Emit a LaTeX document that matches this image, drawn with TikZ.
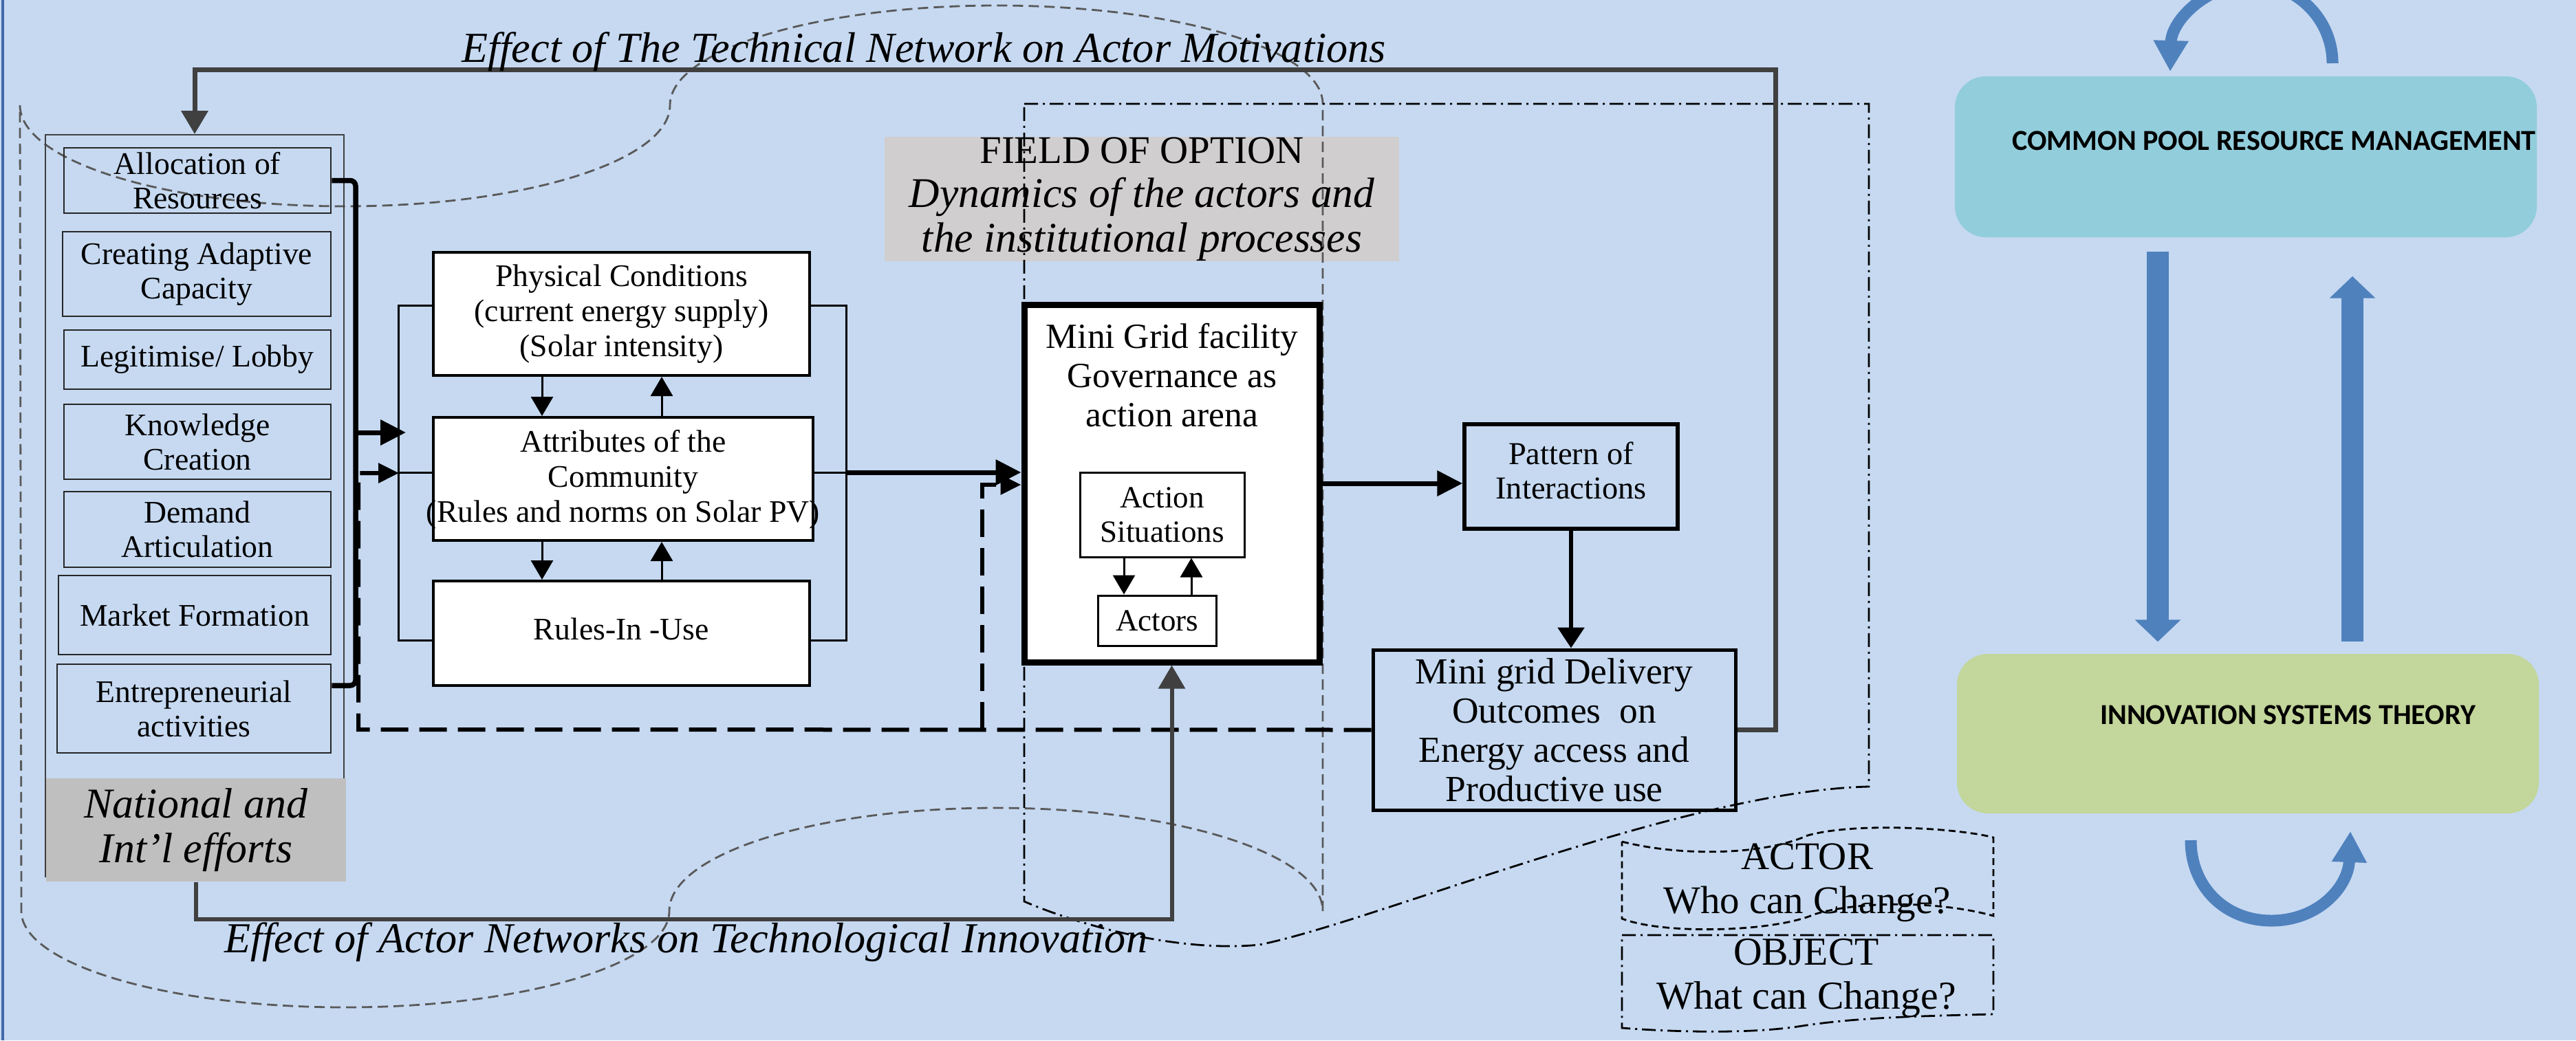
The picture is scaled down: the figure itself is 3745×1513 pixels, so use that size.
\documentclass[tikz,border=0pt]{standalone}
\usepackage{fontspec}
\setmainfont{Liberation Serif}
\newfontfamily\carlito{Carlito}
\usetikzlibrary{arrows.meta}
\definecolor{bgblue}{RGB}{198,217,241}
\definecolor{edgeblue}{RGB}{65,105,170}
\definecolor{darkg}{RGB}{64,64,64}
\definecolor{dashg}{RGB}{89,89,89}
\definecolor{fieldg}{RGB}{208,206,206}
\definecolor{natg}{RGB}{191,191,191}
\definecolor{cprmfill}{RGB}{146,205,220}
\definecolor{istfill}{RGB}{195,214,155}
\definecolor{arrblue}{RGB}{79,129,189}
\tikzset{
 lbox/.style={draw=black!85, line width=0.25mm, inner sep=0pt, align=center, font=\fontsize{13}{14.2}\selectfont},
 wbox/.style={draw=black, fill=white, line width=0.4mm, inner sep=0pt, align=center, font=\fontsize{13}{14.5}\selectfont},
 txt/.style={inner sep=0pt, align=center},
 frameline/.style={black, line width=0.3mm},
 sarr/.style={black, line width=0.3mm, -{Triangle[length=2.8mm,width=3.2mm]}},
 bracketline/.style={black, line width=0.75mm},
 thickarr/.style={black, line width=0.7mm, -{Triangle[length=3.7mm,width=3.6mm]}},
 thickdash/.style={black, line width=0.6mm, dash pattern=on 4mm off 1.6mm, -{Triangle[length=3mm,width=2.8mm]}},
 grayloop/.style={darkg, line width=0.7mm, -{Triangle[length=3.4mm,width=3.8mm]}},
 netdash/.style={dashg, line width=0.28mm, dash pattern=on 1.5mm off 0.8mm},
 fielddash/.style={black, line width=0.28mm, dash pattern=on 2mm off 0.7mm on 0.3mm off 0.7mm},
 bigarr/.style={arrblue, line width=3.2mm, -{Triangle[length=3.2mm,width=6.5mm]}},
 curvarr/.style={arrblue, line width=1.7mm, -{Triangle[length=4.5mm,width=4.8mm]}},
}
\begin{document}
\begin{tikzpicture}[x=0.1mm,y=-0.1mm]
\clip (0,0) rectangle (3745,1513);
\useasboundingbox (0,0) rectangle (3745,1513);
\fill[bgblue] (0,0) rectangle (3745,1513);
\draw[edgeblue, line width=0.5mm] (4,0) -- (4,1513);

% field of option label box
\node[fill=fieldg, minimum width=74.8mm, minimum height=18.1mm, txt, font=\fontsize{17.5}{18.4}\selectfont] (field) at (1660,289.5)
  {{\fontsize{16.2}{18.4}\selectfont FIELD OF OPTION}\\ \itshape Dynamics of the actors and\\ \itshape the institutional processes};

% network dashed outline
\draw[netdash]
 (29,153) .. controls (29,234) and (240,300) .. (501,300)
 .. controls (762,300) and (974,234) .. (974,153)
 .. controls (974,73) and (1187,8) .. (1449,8)
 .. controls (1711,8) and (1923,72) .. (1923,151)
 -- (1923,1325)
 .. controls (1923,1242) and (1710,1175) .. (1448,1175)
 .. controls (1186,1175) and (973,1242) .. (973,1325)
 .. controls (973,1402) and (762,1465) .. (502,1465)
 .. controls (242,1465) and (31,1402) .. (31,1325)
 -- cycle;

% field dash-dot outline
\draw[fielddash]
 (1489,151) -- (2717,151) -- (2717,1144)
 .. controls (2450,1150) and (2000,1340) .. (1831,1374)
 .. controls (1720,1385) and (1580,1350) .. (1489,1311) -- cycle;

% left column
\node[draw=darkg, line width=0.2mm, minimum width=43.4mm, minimum height=107.9mm, inner sep=0pt] (outer) at (283,735.5) {};
\node[lbox, minimum width=38.8mm, minimum height=9.5mm] (alloc) at (287,262.5) {Allocation of\\Resources};
\node[lbox, minimum width=39mm, minimum height=12.3mm] (adapt) at (286,398.5) {Creating Adaptive\\Capacity};
\node[lbox, minimum width=38.8mm, minimum height=8.6mm] (legit) at (287,523) {Legitimise/ Lobby};
\node[lbox, minimum width=38.8mm, minimum height=10.9mm] (know) at (287,642.5) {Knowledge\\Creation};
\node[lbox, minimum width=38.8mm, minimum height=11mm] (demand) at (287,770) {Demand\\Articulation};
\node[lbox, minimum width=39.6mm, minimum height=11.5mm] (market) at (283,894.5) {Market Formation};
\node[lbox, minimum width=39.8mm, minimum height=12.9mm] (entre) at (282,1030.5) {Entrepreneurial\\activities};
\node[fill=natg, minimum width=43.6mm, minimum height=15mm, txt, font=\fontsize{17.6}{18.5}\selectfont\itshape] (natl) at (285,1207) {National and\\Int’l efforts};

% middle boxes
\node[wbox, minimum width=54.7mm, minimum height=17.9mm] (phys) at (903.5,456.5) {Physical Conditions\\(current energy supply)\\(Solar intensity)};
\node[wbox, minimum width=55.2mm, minimum height=17.9mm] (attr) at (906,696.5) {};
\node[txt, font=\fontsize{13}{14.5}\selectfont] (attrtxt) at (906,697) {Attributes of the\\Community\\(Rules and norms on Solar PV)};
\node[wbox, minimum width=54.7mm, minimum height=15.2mm] (rules) at (903.5,921) {};
\node[txt, font=\fontsize{13}{14.5}\selectfont] (rulestxt) at (903.5,915) {Rules-In -Use};

\coordinate (fTL) at (579,444);
\coordinate (fBL) at (579,931);
\coordinate (fTR) at (1230,444);
\coordinate (fBR) at (1230,931);
\coordinate (fML) at (579,687);
\coordinate (fMR) at (1230,687);
\draw[frameline] (phys.west |- fTL) -- (fTL) -- (fBL) -- (rules.west |- fBL);
\draw[frameline] (phys.east |- fTR) -- (fTR) -- (fBR) -- (rules.east |- fBR);
\draw[frameline] (fML) -- (attr.west |- fML);
\draw[frameline] (attr.east |- fMR) -- (fMR);

\coordinate (px1) at (788,0);
\coordinate (px2) at (962,0);
\draw[sarr] (phys.south -| px1) -- (attr.north -| px1);
\draw[sarr] (attr.north -| px2) -- (phys.south -| px2);
\draw[sarr] (attr.south -| px1) -- (rules.north -| px1);
\draw[sarr] (rules.north -| px2) -- (attr.south -| px2);

% mini grid arena
\node[draw=black, fill=white, line width=0.9mm, minimum width=42.9mm, minimum height=52mm, inner sep=0pt] (mini) at (1703.5,703) {};
\node[txt, font=\fontsize{14.65}{16.2}\selectfont] (minitxt) at (1704,546) {Mini Grid facility\\Governance as\\action arena};
\node[wbox, line width=0.3mm, minimum width=23.9mm, minimum height=12.3mm, font=\fontsize{12.8}{14.2}\selectfont] (act) at (1689.5,748.5) {Action\\Situations};
\node[wbox, line width=0.3mm, minimum width=17.2mm, minimum height=7.3mm, font=\fontsize{12.8}{14.2}\selectfont] (actors) at (1682,902.5) {Actors};
\coordinate (ax1) at (1634,0);
\coordinate (ax2) at (1732,0);
\draw[sarr] (act.south -| ax1) -- (actors.north -| ax1);
\draw[sarr] (actors.north -| ax2) -- (act.south -| ax2);

% pattern and delivery
\node[draw=black, line width=0.55mm, minimum width=31mm, minimum height=15.2mm, inner sep=0pt] (pattern) at (2284,693) {};
\node[txt, font=\fontsize{13.2}{14.2}\selectfont] (pattxt) at (2284,684) {Pattern of\\Interactions};
\node[draw=black, line width=0.5mm, minimum width=52.7mm, minimum height=23.3mm, txt, font=\fontsize{15.2}{16.2}\selectfont] (deliv) at (2259.5,1061.5) {Mini grid Delivery\\Outcomes~~on\\Energy access and\\Productive use};

% connectors
\draw[thickarr] (fMR) -- (mini.west |- fMR);
\draw[thickarr] (mini.east) -- (pattern.west |- mini.east);
\draw[black, line width=0.6mm, -{Triangle[length=3mm,width=3.8mm]}] (pattern.south) -- (deliv.north -| pattern.south);

\coordinate (brB) at (517,997);
\coordinate (brA) at (517,629);
\coordinate (brT) at (590,629);
\draw[bracketline, rounded corners=0.8mm] (alloc.east) -| (brB) -- (entre.east |- brB);
\draw[thickarr] (brA) -- (brT);

\coordinate (dA) at (521,1061);
\coordinate (dB) at (521,688);
\coordinate (dC) at (580,688);
\coordinate (dD) at (1428,1061);
\coordinate (dE) at (1428,705);
\draw[thickdash] (deliv.west) -- (dA) -- (dB) -- (dC);
\draw[thickdash] (dD) -- (dE) -- (mini.west |- dE);

\coordinate (gTR) at (2581,101);
\draw[grayloop] (deliv.east) -| (gTR) -| (outer.north);
\coordinate (gB) at (1000,1337);
\draw[grayloop, line width=0.6mm] (natl.south) |- (gB) -| (mini.south);

% effect labels
\node[txt, font=\fontsize{17.7}{20}\selectfont\itshape] (efftop) at (1343,75) {Effect of The Technical Network on Actor Motivations};
\node[txt, font=\fontsize{17.7}{20}\selectfont\itshape] (effbot) at (997,1370) {Effect of Actor Networks on Technological Innovation};

% actor / object
\draw[black, line width=0.28mm, dash pattern=on 1mm off 0.6mm]
 (2358,1224) .. controls (2440,1245) and (2560,1245) .. (2628,1215)
 .. controls (2700,1195) and (2850,1205) .. (2898,1218)
 -- (2898,1332)
 .. controls (2820,1310) and (2700,1310) .. (2637,1330)
 .. controls (2580,1355) and (2420,1360) .. (2358,1336) -- cycle;
\node[txt, font=\fontsize{16.2}{18.2}\selectfont] (actorlbl) at (2627,1284) {ACTOR\\Who can Change?};
\draw[fielddash]
 (2358,1360) -- (2898,1360) -- (2898,1475)
 .. controls (2780,1478) and (2700,1480) .. (2620,1492)
 .. controls (2540,1505) and (2420,1500) .. (2358,1495) -- cycle;
\node[txt, font=\fontsize{16.4}{18.2}\selectfont] (objlbl) at (2626,1423) {OBJECT\\What can Change?};

% right side
\node[fill=cprmfill, rounded corners=4.5mm, minimum width=84.6mm, minimum height=23.4mm, inner sep=0pt] (cprm) at (3265,228) {};
\node[txt, font=\carlito\bfseries\fontsize{12}{14}\selectfont] (cprmtxt) at (3306,205) {COMMON POOL RESOURCE MANAGEMENT};
\node[fill=istfill, rounded corners=4.5mm, minimum width=84.6mm, minimum height=23.2mm, inner sep=0pt] (ist) at (3268,1067) {};
\node[txt, font=\carlito\bfseries\fontsize{12}{14}\selectfont] (isttxt) at (3326,1040) {INNOVATION SYSTEMS THEORY};

\coordinate (bx1) at (3137,0);
\coordinate (bx2) at (3420,0);
\draw[bigarr] ([yshift=-2mm]cprm.south -| bx1) -- ([yshift=1.7mm]ist.north -| bx1);
\draw[bigarr] ([yshift=1.7mm]ist.north -| bx2) -- ([yshift=-5.6mm]cprm.south -| bx2);

\coordinate (ctA) at (3391,92);
\coordinate (ctB) at (3275,-24);
\coordinate (ctC) at (3155,104);
\draw[curvarr] (ctA) .. controls (3391,28) and (3339,-24) .. (ctB) .. controls (3211,-24) and (3157,28) .. (ctC);
\coordinate (cbA) at (3185,1222);
\coordinate (cbB) at (3302,1339);
\coordinate (cbC) at (3417,1209);
\draw[curvarr] (cbA) .. controls (3185,1290) and (3235,1339) .. (cbB) .. controls (3370,1339) and (3414,1290) .. (cbC);
\end{tikzpicture}
\end{document}
